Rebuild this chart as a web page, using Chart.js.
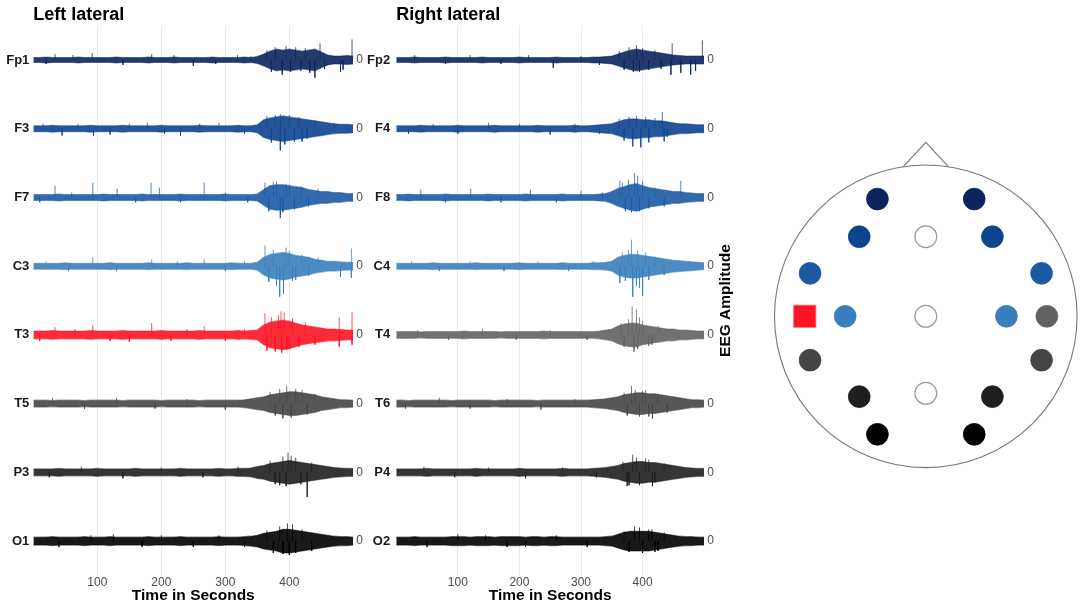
<!DOCTYPE html>
<html>
<head>
<meta charset="utf-8">
<script src="https://cdn.jsdelivr.net/npm/chart.js@4.4.1/dist/chart.umd.min.js"></script>
<style>
  body { margin: 0; background: #fff; width: 1085px; height: 608px; overflow: hidden; position: relative; }
  canvas { position: absolute; top: 0; }
</style>
</head>
<body>
<canvas id="left" width="370" height="608" style="left:0"></canvas>
<canvas id="right" width="383" height="608" style="left:362px"></canvas>
<canvas id="head" width="340" height="608" style="left:745px"></canvas>
<script>
// time grid (seconds) the envelopes were read at
const time = [0,10,20,30,40,50,60,70,80,90,100,110,120,130,140,150,160,170,180,190,200,210,220,230,240,250,260,270,280,290,300,310,320,330,340,350,360,370,380,390,400,410,420,430,440,450,460,470,480,490,500];

const leftChannels = ["Fp1", "F3", "F7", "C3", "T3", "T5", "P3", "O1"];
const rightChannels = ["Fp2", "F4", "F8", "C4", "T4", "T6", "P4", "O2"];

// half-width of the dense trace band
const envFp1 = [2.5,2.5,3,2.5,2.5,2.5,2.5,3,2.5,2.5, 2.5,2.5,2.5,3,2.5,2.5,2.5,2.5,3,2.5, 2.5,2.5,3,2.5,2.5,2.5,2.5,2.5,3,2.5, 2.5,2.5,2.5,3,2.5,3.5, 6,9,11,10,11,10,9,10,11,8,5,4,4,4.5,4];
const envF3  = [3,3,3,3.5,3,3,3,3,3,3.5, 3,3,3,3,3.5,3,3,3,3,3, 3.5,3,3,3,3,3,3.5,3,3,3, 3,3,3.5,3,3,4, 9,11,12,13,12,11,10,9,8,7,6,5,4.5,4.5,4];
const envF7  = [3,3,3,3,3.5,3,3,3,3,3, 3,3.5,3,3,3,3,3,3.5,3,3, 3,3,3,3.5,3,3,3,3,3,3, 3.5,3,3,3,3,3.5, 8,12,13,13,12,11,10,8,7,6,6,5,5,4,4];
const envC3  = [3,3,3,3,3,3.5,3,3,3,3, 3,3,3.5,3,3,3,3,3,3.5,3, 3,3,3,3,3.5,3,3,3,3,3, 3,3.5,3,3,3,4, 9,12,13,14,13,11,10,9,7,6,5,5,4.5,4,4];
const envT3  = [4,4,4,4.5,4,4,4,4,4,4.5, 4,4,4,4,4.5,4,4,4,4,4, 4.5,4,4,4,4,4,4.5,4,4,4, 4,4,4.5,4,4.5,5, 10,13,14,15,14,12,10,9,8,7,6,6,5.5,5,5];
const envT5  = [3.5,3.5,3.5,3,3.5,3.5,3.5,3.5,3,3.5, 3.5,3.5,3.5,3.5,3,3.5,3.5,3.5,3.5,3.5, 3,3.5,3.5,3.5,3.5,3.5,3,3.5,3.5,3.5, 3.5,3.5,3.5,4,5,6, 7,9,10,11,12,12,11,10,9,7,6,5,4,4,3.5];
const envP3  = [3.5,3.5,3.5,3.5,4,3.5,3.5,3.5,3.5,3.5, 4,3.5,3.5,3.5,3.5,3.5,4,3.5,3.5,3.5, 3.5,3.5,3.5,4,3.5,3.5,3.5,3.5,3.5,4, 3.5,3.5,4,4,4.5,6, 7,9,10,11,12,11,10,9,8,7,6,5,4.5,4,4];
const envO1  = [4,4,4,4.5,4,4,4,4,4.5,4, 4,4,4.5,4,4,4,4,4,4.5,4, 4,4,4,4.5,4,4,4,4,4,4.5, 4,4,4,4.5,5,6, 8,9,10,12,12,11,10,9,8,7,6,5,4.5,4.5,4];

const envFp2 = [2.5,2.5,2.5,3,2.5,2.5,2.5,2.5,3,2.5, 2.5,2.5,2.5,2.5,3,2.5,2.5,2.5,2.5,2.5, 3,2.5,2.5,2.5,2.5,2.5,3,2.5,2.5,2.5, 2.5,2.5,3,3,3.5,4, 6,8,10,11,10,9,8,7,6,5,4.5,4,4,4,4];
const envF4  = [3,3,3,3,3.5,3,3,3,3,3, 3.5,3,3,3,3,3,3.5,3,3,3, 3,3,3,3.5,3,3,3,3,3,3.5, 3,3,3.5,4,4.5,5, 7,9,10,10,9,9,8,8,7,6,5,5,4.5,4,4];
const envF8  = [3,3,3.5,3,3,3,3,3,3.5,3, 3,3,3,3,3,3.5,3,3,3,3, 3,3.5,3,3,3,3,3,3.5,3,3, 3,3,3,3.5,4,6, 9,11,13,14,12,10,9,8,7,6,6,5,4.5,4,4];
const envC4  = [3,3,3,3,3,3,3.5,3,3,3, 3,3,3,3.5,3,3,3,3,3,3, 3.5,3,3,3,3,3,3,3.5,3,3, 3,3,3.5,3.5,4,5, 9,11,12,12,11,10,9,8,7,6,5.5,5,4.5,4,3.5];
const envT4  = [3.5,3.5,3.5,3.5,3,3.5,3.5,3.5,3.5,3.5, 3.5,4,3.5,3.5,3.5,3.5,3.5,3,3.5,3.5, 3.5,3.5,3.5,3.5,4,3.5,3.5,3.5,3.5,3.5, 3.5,3.5,3.5,4,5,6, 9,11,12,12,10,9,8,7,6,6,5,5,4.5,4,4];
const envT6  = [3.5,3.5,3,3.5,3.5,3.5,3.5,3.5,3.5,3, 3.5,3.5,3.5,3.5,3.5,3.5,3,3.5,3.5,3.5, 3.5,3.5,3.5,3,3.5,3.5,3.5,3.5,3.5,3.5, 3.5,3.5,4,4.5,5,6, 7,9,10,11,11,10,10,9,8,7,6,5,4,4,3.5];
const envP4  = [3.5,3.5,3.5,3.5,3.5,4,3.5,3.5,3.5,3.5, 3.5,3.5,3.5,4,3.5,3.5,3.5,3.5,3.5,3.5, 4,3.5,3.5,3.5,3.5,3.5,3.5,4,3.5,3.5, 3.5,3.5,4,4.5,5,6, 7,9,10,11,11,10,10,9,8,7,6,5,4.5,4,4];
const envO2  = [4,4,4,4.5,4,4,4,4,4,4.5, 4.5,4.5,4,4.5,4.5,4.5,4,4.5,4.5,4.5, 4.5,4,4.5,4.5,4,4.5,4.5,4,4,4, 4,4,4,4,4.5,5, 7,9,10,10,10,10,9,8,7,6,5,4.5,4.5,4,4];

// isolated spikes: [time, signed amplitude]
const spikesFp1 = [[20,-4],[34,6],[62,5],[92,7],[140,-5],[185,6],[220,5],[250,-6],[285,-4],[319,5],[340,4],
  [365,10],[372,-12],[378,13],[389,-15],[395,14],[402,-12],[410,13],[418,-11],[425,12],[432,-13],[440,-18],[448,17],[455,-9],[480,-12],[484,-10],[498,21]];
const spikesF3  = [[15,5],[45,-7],[70,5],[94,-7],[120,-6],[150,5],[178,6],[205,-5],[230,-7],[260,5],[290,6],[330,-5],
  [365,13],[372,-14],[378,14],[386,-22],[386,15],[393,-16],[400,14],[408,-13],[415,12],[420,-13],[428,-10],[440,9],[470,6]];
const spikesF7  = [[10,-5],[34,12],[60,5],[93,15],[131,9],[160,-5],[184,15],[197,10],[230,-5],[267,15],[300,5],[335,-5],
  [362,15],[368,-14],[375,16],[380,16],[386,-21],[390,-15],[395,14],[400,13],[408,-12],[418,11],[430,-9],[445,9]];
const spikesC3  = [[20,5],[55,-5],[93,9],[130,-5],[185,7],[225,5],[267,7],[300,-5],[330,5],
  [362,21],[368,-16],[375,17],[380,-20],[385,-31],[391,-28],[395,19],[400,16],[405,-15],[410,-14],[420,12],[430,-10],[445,9],[480,-11],[497,18],[497,-12]];
const spikesT3  = [[10,-6],[34,8],[65,6],[93,10],[120,-6],[150,-7],[185,12],[215,-6],[240,6],[267,9],[300,-6],[330,6],
  [362,22],[365,-16],[372,18],[378,-17],[383,20],[387,24],[388,-18],[392,23],[396,-15],[400,-14],[405,17],[415,-12],[425,13],[440,-10],[478,18],[478,-12],[498,23],[498,-10]];
const spikesT5  = [[30,6],[80,-5],[130,6],[190,-5],[240,5],[300,-6],
  [370,12],[378,-12],[385,15],[390,-15],[396,18],[403,-14],[410,15],[420,14],[428,-11],[440,10]];
const spikesP3  = [[25,-5],[75,6],[140,-6],[200,5],[265,-5],[320,6],
  [370,12],[378,-12],[385,-13],[390,16],[395,-14],[398,20],[403,17],[410,15],[418,-12],[428,-25],[435,10]];
const spikesO1  = [[40,-6],[90,6],[125,7],[170,-6],[200,6],[250,-6],[290,6],[330,-6],
  [365,11],[375,-12],[385,15],[390,-13],[397,18],[400,-14],[405,17],[410,-12],[420,12],[435,-10]];

const spikesFp2 = [[30,5],[80,-4],[120,5],[170,-4],[215,5],[255,-8],[300,4],[330,-5],
  [362,9],[370,-10],[378,13],[385,-12],[390,15],[395,-12],[400,12],[410,-10],[420,10],[430,-9],[446,-15],[448,17],[462,-13],[478,-15],[486,-11],[497,20]];
const spikesF4  = [[20,-5],[60,5],[100,-5],[150,6],[200,5],[250,-6],[290,5],[330,-5],
  [362,10],[370,-12],[378,12],[384,-18],[390,13],[397,-19],[405,12],[410,-14],[420,11],[432,17],[435,-13],[440,-8]];
const spikesF8  = [[40,8],[80,-5],[121,9],[170,-5],[218,8],[260,-5],[300,7],[335,5],
  [363,17],[367,15],[372,-14],[377,18],[382,-15],[387,25],[392,22],[395,-14],[400,17],[410,-11],[420,10],[435,-9],[462,17]];
const spikesC4  = [[25,5],[70,-5],[120,5],[175,-5],[230,5],[280,-5],[320,5],
  [363,-17],[367,14],[372,-15],[377,17],[382,27],[384,-31],[390,-20],[392,16],[395,-22],[400,-30],[405,14],[410,-14],[420,10],[435,-9]];
const spikesT4  = [[35,5],[85,-5],[140,6],[195,-5],[250,5],[310,-5],
  [365,12],[370,-12],[377,16],[383,29],[386,-17],[390,26],[392,-14],[395,18],[400,14],[410,-11],[415,-10],[425,9]];
const spikesT6  = [[15,-5],[70,6],[120,-5],[180,5],[235,-6],[290,5],
  [370,11],[375,-12],[382,18],[388,14],[395,-13],[400,13],[405,14],[410,-13],[416,-15],[425,10],[440,-9]];
const spikesP4  = [[45,6],[95,-5],[150,5],[210,-6],[270,5],[325,-5],
  [368,11],[375,-14],[378,-13],[384,18],[390,15],[395,-13],[405,14],[410,13],[416,-14],[420,-10],[435,9]];
const spikesO2  = [[50,-6],[100,7],[145,6],[180,-6],[210,-6],[260,6],[310,-6],
  [370,10],[378,-11],[387,15],[395,14],[400,-12],[410,12],[415,12],[420,-11],[425,-10],[435,9]];

// head map electrodes (unit head radius, nose up)
const electrodeNames = ["Fp1","Fp2","F7","F3","Fz","F4","F8","T3","C3","Cz","C4","T4","T5","P3","Pz","P4","T6","O1","O2"];
const electrodeX = [-0.32,0.32,-0.765,-0.44,0,0.44,0.765,-0.80,-0.533,0,0.533,0.80,-0.765,-0.44,0,0.44,0.765,-0.32,0.32];
const electrodeY = [0.775,0.775,0.284,0.526,0.526,0.526,0.284,0,0,0,0,0,-0.29,-0.531,-0.509,-0.531,-0.29,-0.78,-0.78];

const envs = {Fp1:envFp1,F3:envF3,F7:envF7,C3:envC3,T3:envT3,T5:envT5,P3:envP3,O1:envO1,
              Fp2:envFp2,F4:envF4,F8:envF8,C4:envC4,T4:envT4,T6:envT6,P4:envP4,O2:envO2};
const spikes = {Fp1:spikesFp1,F3:spikesF3,F7:spikesF7,C3:spikesC3,T3:spikesT3,T5:spikesT5,P3:spikesP3,O1:spikesO1,
                Fp2:spikesFp2,F4:spikesF4,F8:spikesF8,C4:spikesC4,T4:spikesT4,T6:spikesT6,P4:spikesP4,O2:spikesO2};

const colors = {
  Fp1:"#0b255c", Fp2:"#0b255c",
  F3:"#0d4490",  F4:"#0d4490",
  F7:"#1c5ba4",  F8:"#1c5ba4",
  C3:"#3a7fbd",  C4:"#3a7fbd",
  T3:"#fc1424",  T4:"#626262",
  T5:"#454545",  T6:"#454545",
  P3:"#1f1f1f",  P4:"#1f1f1f",
  O1:"#000000",  O2:"#000000",
  Fz:"#ffffff",  Cz:"#ffffff", Pz:"#ffffff"
};

const FONT = "'Liberation Sans', Arial, Helvetica, sans-serif";
const ROW = 70;
const offsets = [0,1,2,3,4,5,6,7].map(i => i * ROW);

function fade(hex, a) {
  const n = parseInt(hex.slice(1), 16);
  return `rgba(${n >> 16},${(n >> 8) & 255},${n & 255},${a})`;
}

function panel(id, title, channels, dims) {
  const datasets = [];
  channels.forEach((ch, i) => {
    const off = (7 - i) * ROW;
    const col = colors[ch];
    const env = envs[ch];
    datasets.push({
      data: time.map((t, k) => ({x: t, y: off + env[k]})),
      borderColor: fade(col, 0.5), borderWidth: 1.2, pointRadius: 0, tension: 0, fill: false
    });
    datasets.push({
      data: time.map((t, k) => ({x: t, y: off - env[k]})),
      borderColor: fade(col, 0.5), borderWidth: 1.2, pointRadius: 0, tension: 0,
      fill: "-1", backgroundColor: fade(col, 0.9)
    });
    const sp = [];
    spikes[ch].forEach(([t, a]) => sp.push({x: t, y: off}, {x: t, y: off + a}, {x: t, y: null}));
    datasets.push({
      data: sp, borderColor: fade(col, 0.75), borderWidth: 1, pointRadius: 0, fill: false, spanGaps: false
    });
  });

  const yTitle = {
    id: "yTitle",
    afterDraw(chart) {
      if (!dims.yTitleX) return;
      const ctx = chart.ctx;
      ctx.save();
      ctx.translate(dims.yTitleX, (chart.chartArea.top + chart.chartArea.bottom) / 2);
      ctx.rotate(-Math.PI / 2);
      ctx.font = `bold 15.5px ${FONT}`;
      ctx.fillStyle = "#000";
      ctx.textAlign = "center";
      ctx.textBaseline = "middle";
      ctx.fillText("EEG Amplitude", 0, 0);
      ctx.restore();
    }
  };

  new Chart(document.getElementById(id), {
    type: "line",
    data: {datasets},
    plugins: [yTitle],
    options: {
      responsive: false,
      animation: false,
      events: [],
      layout: {padding: 0, autoPadding: false},
      plugins: {
        legend: {display: false},
        tooltip: {enabled: false},
        title: {
          display: true, text: title, align: "start", fullSize: false,
          color: "#000", font: {family: FONT, size: 18, weight: "bold"},
          padding: {top: 4, bottom: 0}
        }
      },
      scales: {
        x: {
          type: "linear", min: 0, max: 500,
          afterFit(s) { s.height = 32.5; },
          grid: {
            drawTicks: false,
            color: c => (c.tick && (c.tick.value === 0 || c.tick.value === 500)) ? "rgba(0,0,0,0)" : "#ebebeb"
          },
          border: {display: false},
          ticks: {
            stepSize: 100, padding: 0, color: "#4d4d4d", font: {family: FONT, size: 12},
            callback: v => (v === 0 || v === 500) ? "" : v
          },
          title: {
            display: true, text: "Time in Seconds", color: "#000",
            font: {family: FONT, size: 15.5, weight: "bold"}, padding: {top: 0, bottom: 3}
          }
        },
        y: {
          type: "linear", position: "left", min: -ROW / 2, max: 7 * ROW + ROW / 2,
          afterFit(s) { s.width = dims.yw; },
          afterBuildTicks(s) { s.ticks = offsets.map(v => ({value: v})); },
          grid: {display: false, drawTicks: false}, border: {display: false},
          ticks: {
            autoSkip: false, padding: dims.lpad, color: "#1a1a1a",
            font: {family: FONT, size: 13, weight: "bold"},
            callback: v => channels[7 - Math.round(v / ROW)]
          }
        },
        y2: {
          type: "linear", position: "right", min: -ROW / 2, max: 7 * ROW + ROW / 2,
          afterFit(s) { s.width = dims.y2w; },
          afterBuildTicks(s) { s.ticks = offsets.map(v => ({value: v})); },
          grid: {display: false, drawTicks: false}, border: {display: false},
          ticks: {autoSkip: false, padding: 3, color: "#4d4d4d", font: {family: FONT, size: 12}, callback: () => "0"}
        }
      }
    }
  });
}

panel("left", "Left lateral", leftChannels, {yw: 33.3, y2w: 16.7, lpad: 4});
panel("right", "Right lateral", rightChannels, {yw: 34.2, y2w: 40.8, lpad: 6, yTitleX: 363.5});

// head outline drawn through the scatter scales
const headOutline = {
  id: "headOutline",
  beforeDatasetsDraw(chart) {
    const {x, y} = chart.scales;
    const ctx = chart.ctx;
    const cx = x.getPixelForValue(0), cy = y.getPixelForValue(0);
    const r = x.getPixelForValue(1) - cx;
    ctx.save();
    ctx.strokeStyle = "#777";
    ctx.lineWidth = 1.1;
    ctx.beginPath();
    ctx.moveTo(x.getPixelForValue(-0.149), y.getPixelForValue(0.99));
    ctx.lineTo(x.getPixelForValue(0), y.getPixelForValue(1.15));
    ctx.lineTo(x.getPixelForValue(0.149), y.getPixelForValue(0.99));
    ctx.stroke();
    ctx.beginPath();
    ctx.arc(cx, cy, r, 0, Math.PI * 2);
    ctx.stroke();
    ctx.restore();
  }
};

const hollow = ["Fz", "Cz", "Pz"];
new Chart(document.getElementById("head"), {
  type: "scatter",
  data: {
    datasets: [{
      data: electrodeNames.map((n, i) => ({x: electrodeX[i], y: electrodeY[i]})),
      backgroundColor: electrodeNames.map(n => colors[n]),
      borderColor: electrodeNames.map(n => hollow.includes(n) ? "#999999" : (n === "T3" ? "#ff7a82" : colors[n])),
      borderWidth: electrodeNames.map(n => hollow.includes(n) ? 1.2 : 0.8),
      pointStyle: electrodeNames.map(n => n === "T3" ? "rect" : "circle"),
      pointRadius: electrodeNames.map(n => n === "T3" ? 15.8 : 10.9)
    }]
  },
  plugins: [headOutline],
  options: {
    responsive: false,
    animation: false,
    events: [],
    layout: {padding: 0, autoPadding: false},
    plugins: {legend: {display: false}, tooltip: {enabled: false}},
    scales: {
      x: {type: "linear", min: -1.195, max: 1.052, display: false},
      y: {type: "linear", min: -1.928, max: 2.0906, display: false}
    }
  }
});
</script>
</body>
</html>
